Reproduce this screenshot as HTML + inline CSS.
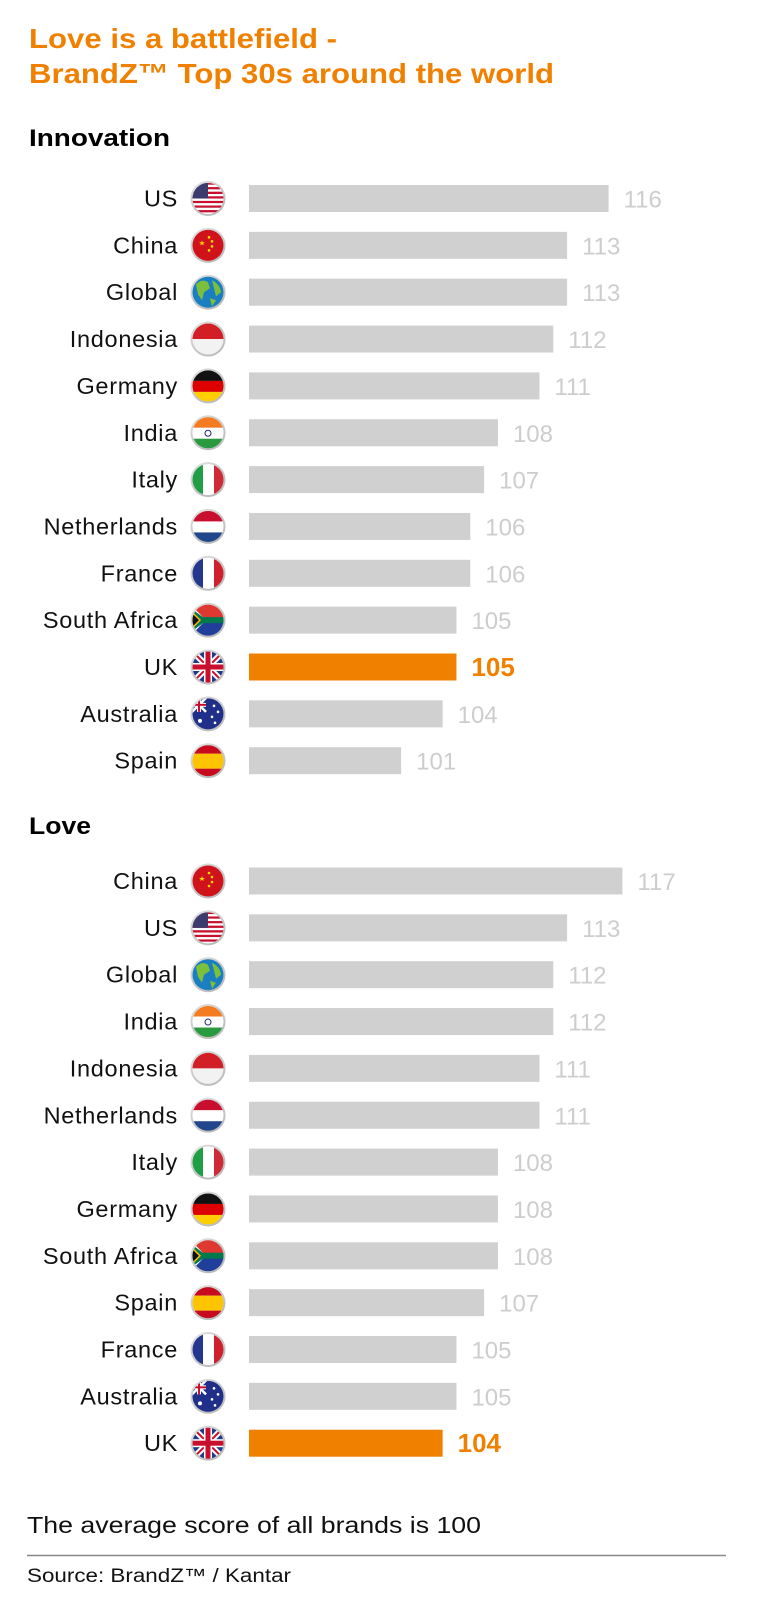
<!DOCTYPE html>
<html><head><meta charset="utf-8">
<style>
html,body{margin:0;padding:0;background:#fff;}
svg{display:block;}
text{font-family:"Liberation Sans",sans-serif;}
</style></head>
<body>
<svg id="chart" width="762" height="1600" viewBox="0 0 762 1600" xmlns="http://www.w3.org/2000/svg">
<defs>
  <clipPath id="fc"><circle cx="0" cy="0" r="15.5"/></clipPath>
  <radialGradient id="ring" cx="0.4" cy="0.35" r="0.7">
    <stop offset="0" stop-color="#f4f4f4"/><stop offset="1" stop-color="#b8b8b8"/>
  </radialGradient>
</defs>
<text x="29" y="48" font-size="27.5" font-weight="bold" fill="#f08000" textLength="308" lengthAdjust="spacingAndGlyphs">Love is a battlefield -</text>
<text x="29" y="83" font-size="27.5" font-weight="bold" fill="#f08000" textLength="525" lengthAdjust="spacingAndGlyphs">BrandZ™ Top 30s around the world</text>
<text x="29" y="146" font-size="24" font-weight="bold" fill="#000" textLength="141" lengthAdjust="spacingAndGlyphs">Innovation</text>
<text x="29" y="834" font-size="24" font-weight="bold" fill="#000" textLength="62" lengthAdjust="spacingAndGlyphs">Love</text>
<g id="innov"></g>
<g id="love"></g>
<text x="27" y="1533" font-size="23" fill="#111" textLength="454" lengthAdjust="spacingAndGlyphs">The average score of all brands is 100</text>
<line x1="27" y1="1555.5" x2="726" y2="1555.5" stroke="#888" stroke-width="1.5"/>
<text x="27" y="1582" font-size="19" fill="#111" textLength="264" lengthAdjust="spacingAndGlyphs">Source: BrandZ™ / Kantar</text>
</svg>
<script>
const innovCountries = ["US","China","Global","Indonesia","Germany","India","Italy","Netherlands","France","South Africa","UK","Australia","Spain"];
const innovValues = [116,113,113,112,111,108,107,106,106,105,105,104,101];
const loveCountries = ["China","US","Global","India","Indonesia","Netherlands","Italy","Germany","South Africa","Spain","France","Australia","UK"];
const loveValues = [117,113,112,112,111,111,108,108,108,107,105,105,104];

const NS="http://www.w3.org/2000/svg";
const X0=249, UNIT=13.83, BASE=90;
function xScale(v){return X0+(v-BASE)*UNIT;}
function yRow(start,i){return start+i*46.85;}
function mk(tag,attrs,parent){const e=document.createElementNS(NS,tag);for(const k in attrs)e.setAttribute(k,attrs[k]);parent.appendChild(e);return e;}
function slug(s){return s.toLowerCase().replace(/ /g,'-');}

function flag(g,c){
  const f=mk('g',{'clip-path':'url(#fc)'},g);
  const R=(x,y,w,h,col)=>mk('rect',{x:x,y:y,width:w,height:h,fill:col},f);
  switch(c){
    case 'US':
      for(let i=0;i<7;i++){R(-16,-16+i*4.6,32,2.3,'#c8102e');R(-16,-13.7+i*4.6,32,2.3,'#fff');}
      R(-16,-16,16,16,'#3c3b6e');break;
    case 'China':
      R(-16,-16,32,32,'#d0121b');
      mk('polygon',{points:'-6,-5 -4.2,0 -9,-3 -3,-3 -7.8,0',fill:'#ffde00'},f);
      [[1,-8],[4,-4],[4,1],[1,5]].forEach(p=>mk('circle',{cx:p[0],cy:p[1],r:1.3,fill:'#ffde00'},f));break;
    case 'Global':
      R(-16,-16,32,32,'#1a7fc1');
      mk('path',{d:'M-12,-8 Q-6,-14 0,-10 L2,-4 -4,0 -6,8 -10,2 Z M4,-12 Q12,-8 13,0 L8,4 6,-4 Z M2,6 L8,8 4,14 Z',fill:'#7bbf3a'},f);break;
    case 'Indonesia':
      R(-16,-16,32,16,'#d21f26');R(-16,0,32,16,'#f2f2f2');break;
    case 'Germany':
      R(-16,-16,32,11,'#111');R(-16,-5,32,11,'#d00');R(-16,6,32,10,'#ffce00');break;
    case 'India':
      R(-16,-16,32,11,'#f47b20');R(-16,-5,32,11,'#fff');R(-16,6,32,10,'#2a9a3e');
      mk('circle',{cx:0,cy:0.5,r:3,fill:'none',stroke:'#1a237e','stroke-width':1},f);break;
    case 'Italy':
      R(-16,-16,11,32,'#1f9e45');R(-5,-16,11,32,'#fff');R(6,-16,10,32,'#cf2b37');break;
    case 'Netherlands':
      R(-16,-16,32,11,'#c8102e');R(-16,-5,32,11,'#fff');R(-16,6,32,10,'#21468b');break;
    case 'France':
      R(-16,-16,11,32,'#24378f');R(-5,-16,11,32,'#fff');R(6,-16,10,32,'#d0202e');break;
    case 'South Africa':
      R(-16,-16,32,16,'#de3831');R(-16,0,32,16,'#1f3f9a');
      mk('polygon',{points:'-16,-14 -2,0 -16,14',fill:'#fff'},f);
      mk('path',{d:'M-16,-11 L-5,-3 L16,-3 L16,3 L-5,3 L-16,11 Z',fill:'#007a4d'},f);
      mk('polygon',{points:'-16,-7 -9,0 -16,7',fill:'#111'},f);
      mk('path',{d:'M-16,-8 L-8,0 L-16,8',fill:'none',stroke:'#ffb612','stroke-width':1.5},f);break;
    case 'UK':
      R(-16,-16,32,32,'#1f3a8a');
      mk('path',{d:'M-16,-16 L16,16 M16,-16 L-16,16',stroke:'#fff','stroke-width':6},f);
      mk('path',{d:'M-16,-16 L16,16 M16,-16 L-16,16',stroke:'#c8102e','stroke-width':2},f);
      R(-16,-4,32,8,'#fff');R(-4,-16,8,32,'#fff');
      R(-16,-2.5,32,5,'#c8102e');R(-2.5,-16,5,32,'#c8102e');break;
    case 'Australia':
      R(-16,-16,32,32,'#1f2f8a');
      const u=mk('g',{},f);
      mk('rect',{x:-16,y:-16,width:14,height:14,fill:'#1f2f8a'},u);
      mk('path',{d:'M-16,-16 L-2,-2 M-2,-16 L-16,-2',stroke:'#fff','stroke-width':2.5},u);
      mk('rect',{x:-16,y:-11,width:14,height:4,fill:'#fff'},u);mk('rect',{x:-11,y:-16,width:4,height:14,fill:'#fff'},u);
      mk('rect',{x:-16,y:-10,width:14,height:2,fill:'#c8102e'},u);mk('rect',{x:-10,y:-16,width:2,height:14,fill:'#c8102e'},u);
      [[-8,7,2],[6,-8,1.3],[10,-2,1.3],[4,3,1.3],[7,9,1.3]].forEach(p=>mk('circle',{cx:p[0],cy:p[1],r:p[2],fill:'#fff'},f));break;
    case 'Spain':
      R(-16,-16,32,9,'#c60b1e');R(-16,-7,32,15,'#ffc400');R(-16,8,32,8,'#c60b1e');break;
  }
}

function draw(gid,countries,values,start,prefix){
  const g=document.getElementById(gid);
  countries.forEach((c,i)=>{
    const cy=yRow(start,i), v=values[i], uk=c==='UK';
    const row=mk('g',{},g);
    
    
    const lab=mk('text',{x:178,y:cy+8,'font-size':23.5,'text-anchor':'end',fill:'#111','letter-spacing':0.7},row);
    
    
    lab.textContent=c;
    const fg=mk('g',{transform:'translate(208,'+cy+')'},row);
    
    
    mk('circle',{cx:0,cy:0,r:17.5,fill:'url(#ring)'},fg);
    flag(fg,c);
    const bar=mk('rect',{x:X0,y:cy-13.5,width:xScale(v)-X0,height:27,fill:uk?'#f08000':'#d0d0d0'},row);
    
    
    const vt=mk('text',{x:xScale(v)+15,y:cy+9,'font-size':uk?26:24,'font-weight':uk?'bold':'normal',fill:uk?'#f08000':'#cdcdcd'},row);
    
    
    vt.textContent=v;
  });
}
draw('innov',innovCountries,innovValues,198.5,'innovation');
draw('love',loveCountries,loveValues,881,'love');
</script>
</body></html>
